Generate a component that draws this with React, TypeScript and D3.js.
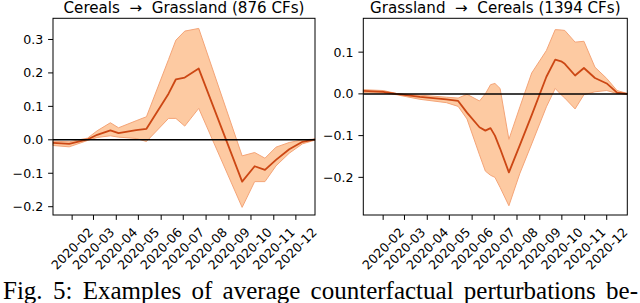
import React, { useLayoutEffect, useRef, useState } from "react";
import * as d3 from "d3";

// ---- data ----
const leftTitle = "Cereals  \u2192  Grassland (876 CFs)";
const leftDates = ["2020-01-06", "2020-01-28", "2020-02-22", "2020-03-06", "2020-03-24", "2020-04-04", "2020-04-28", "2020-05-12", "2020-06-11", "2020-06-21", "2020-07-03", "2020-07-22", "2020-09-19", "2020-10-06", "2020-10-20", "2020-11-04", "2020-11-22", "2020-12-10", "2020-12-27"];
const leftMean = [-0.009, -0.012, 0.001, 0.015, 0.028, 0.02, 0.029, 0.033, 0.138, 0.181, 0.186, 0.213, -0.125, -0.079, -0.09, -0.06, -0.028, -0.006, 0.001];
const leftLower = [-0.017, -0.021, -0.002, 0.007, 0.012, 0.008, 0.004, -0.005, 0.064, 0.064, 0.041, 0.094, -0.202, -0.125, -0.125, -0.078, -0.04, -0.012, -0.001];
const leftUpper = [-0.004, -0.006, 0.005, 0.027, 0.051, 0.036, 0.057, 0.069, 0.24, 0.298, 0.325, 0.333, -0.048, -0.038, -0.055, -0.022, -0.008, 0.0, 0.002];
const leftYTicks = [-0.2, -0.1, 0, 0.1, 0.2, 0.3];

const rightTitle = "Grassland  \u2192  Cereals (1394 CFs)";
const rightDates = ["2020-01-05", "2020-02-01", "2020-02-19", "2020-03-22", "2020-04-27", "2020-05-13", "2020-05-25", "2020-06-11", "2020-06-19", "2020-06-26", "2020-07-02", "2020-07-09", "2020-07-21", "2020-08-05", "2020-08-21", "2020-09-10", "2020-09-22", "2020-09-30", "2020-10-05", "2020-10-19", "2020-10-31", "2020-11-15", "2020-12-01", "2020-12-15", "2020-12-29"];
const rightMean = [0.007, 0.005, 0.0, -0.007, -0.013, -0.017, -0.045, -0.08, -0.088, -0.082, -0.1, -0.131, -0.188, -0.122, -0.051, 0.041, 0.082, 0.078, 0.072, 0.044, 0.062, 0.038, 0.025, 0.003, 0.0];
const rightLower = [0.003, 0.002, -0.002, -0.013, -0.021, -0.03, -0.06, -0.146, -0.185, -0.195, -0.2, -0.224, -0.268, -0.19, -0.12, -0.031, 0.013, -0.002, -0.01, -0.036, -0.002, 0.005, 0.008, 0.001, -0.001];
const rightUpper = [0.01, 0.008, 0.001, -0.003, -0.008, -0.01, -0.001, -0.017, 0.0, 0.022, 0.025, 0.013, -0.109, -0.031, 0.05, 0.104, 0.154, 0.153, 0.152, 0.124, 0.126, 0.064, 0.037, 0.008, 0.001];
const rightYTicks = [-0.2, -0.1, 0, 0.1];

const caption = "Fig. 5: Examples of average counterfactual perturbations be-";

const parse = d3.timeParse("%Y-%m-%d");
const fmtMonth = d3.timeFormat("%Y-%m");
const fmtY = (v) => d3.format(".1f")(v).replace("-", "\u2212");

const FONT = "'DejaVu Sans', sans-serif";
const SERIF = "'Liberation Serif', 'Times New Roman', Times, serif";

function Panel({ title, dates, mean, lower, upper, yTicks, yDomain, box }) {
  const rows = dates.map((d, i) => ({ date: parse(d), m: mean[i], lo: lower[i], hi: upper[i] }));
  const x = d3.scaleTime().domain(d3.extent(rows, (d) => d.date)).range([box.x0, box.x1]);
  const y = d3.scaleLinear().domain(yDomain).range([box.y1, box.y0]);

  const area = d3.area().x((d) => x(d.date)).y0((d) => y(d.lo)).y1((d) => y(d.hi));
  const line = d3.line().x((d) => x(d.date)).y((d) => y(d.m));

  const xTicks = d3.timeMonth.range(new Date(2020, 1, 1), new Date(2020, 11, 2));
  const tickLen = 4.9;
  const labTop = box.y1 + tickLen + 4.9;

  return (
    <g>
      <text x={(box.x0 + box.x1) / 2} y={12.5} textAnchor="middle" fontFamily={FONT} fontSize={15.1} style={{ whiteSpace: "pre" }}>
        {title}
      </text>
      <path d={area(rows)} fill="#fdcaa2" stroke="#f4a477" strokeWidth={1} />
      <path d={line(rows)} fill="none" stroke="#cc4714" strokeWidth={1.8} strokeLinejoin="round" />
      <line x1={box.x0} x2={box.x1} y1={y(0)} y2={y(0)} stroke="#000" strokeWidth={1.5} />
      <rect x={box.x0} y={box.y0} width={box.x1 - box.x0} height={box.y1 - box.y0} fill="none" stroke="#000" strokeWidth={1} />
      {yTicks.map((t) => (
        <g key={t}>
          <line x1={box.x0 - tickLen} x2={box.x0} y1={y(t)} y2={y(t)} stroke="#000" strokeWidth={1} />
          <text x={box.x0 - tickLen - 4.9} y={y(t)} dy="0.36em" textAnchor="end" fontFamily={FONT} fontSize={12.6}>
            {fmtY(t)}
          </text>
        </g>
      ))}
      {xTicks.map((t) => {
        const tx = x(t);
        const ex = tx + 18.6;
        const ey = labTop + 5.2;
        return (
          <g key={t.getTime()}>
            <line x1={tx} x2={tx} y1={box.y1} y2={box.y1 + tickLen} stroke="#000" strokeWidth={1} />
            <text transform={`translate(${ex},${ey}) rotate(-45)`} textAnchor="end" dominantBaseline="central" fontFamily={FONT} fontSize={12.6}>
              {fmtMonth(t)}
            </text>
          </g>
        );
      })}
    </g>
  );
}

// justified caption line: spread the words over the full width
function Caption({ text, x, y, width }) {
  const ref = useRef(null);
  const [ws, setWs] = useState(0);
  useLayoutEffect(() => {
    const el = ref.current;
    if (!el) return;
    const natural = el.getComputedTextLength();
    const gaps = text.split(" ").length - 1;
    setWs(Math.max(0, (width - natural) / gaps));
  }, [text, width]);
  return (
    <text ref={ref} x={x} y={y} fontFamily={SERIF} fontSize={25} style={{ wordSpacing: `${ws}px` }}>
      {text}
    </text>
  );
}

export default function App() {
  return (
    <svg width={640} height={303} style={{ position: "absolute", left: 0, top: 0, background: "#fff" }}>
      <Panel title={leftTitle} dates={leftDates} mean={leftMean} lower={leftLower} upper={leftUpper}
        yTicks={leftYTicks} yDomain={[-0.2248, 0.3633]} box={{ x0: 53, x1: 315, y0: 18.3, y1: 215 }} />
      <Panel title={rightTitle} dates={rightDates} mean={rightMean} lower={rightLower} upper={rightUpper}
        yTicks={rightYTicks} yDomain={[-0.2902, 0.1811]} box={{ x0: 363.3, x1: 627.3, y0: 18.3, y1: 215 }} />
      <Caption text={caption} x={3} y={299} width={635} />
    </svg>
  );
}
